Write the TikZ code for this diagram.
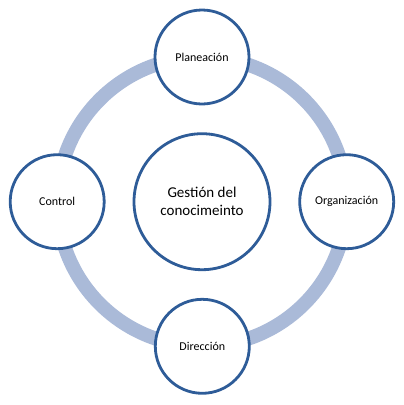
\documentclass[tikz,border=0pt]{standalone}
\usepackage{fontspec}
\setmainfont{Carlito}
\definecolor{ringc}{RGB}{170,186,216}
\definecolor{edgec}{RGB}{46,92,152}
\begin{document}
\begin{tikzpicture}[x=1pt,y=-1pt,
  smallc/.style={circle,draw=edgec,line width=2.8pt,fill=white,minimum size=94pt,inner sep=0pt,font=\fontsize{12}{14}\selectfont},
  bigc/.style={circle,draw=edgec,line width=2.8pt,fill=white,minimum size=136pt,inner sep=0pt,align=center,font=\fontsize{15}{18}\selectfont}]
\useasboundingbox (0,0) rectangle (404,405);
\coordinate (ctr) at (202,201.7);
\draw[ringc,line width=14pt] (ctr) circle[radius=144.5pt];
\node[bigc] (g) at (ctr) {Gestión del\\conocimeinto};
\node[smallc] (p) at (202,57) {Planeación};
\node[smallc] (o) at (346.7,201.7) {Organización};
\node[smallc] (d) at (202.3,346.3) {Dirección};
\node[smallc] (c) at (57.2,201.7) {Control};
\end{tikzpicture}
\end{document}
